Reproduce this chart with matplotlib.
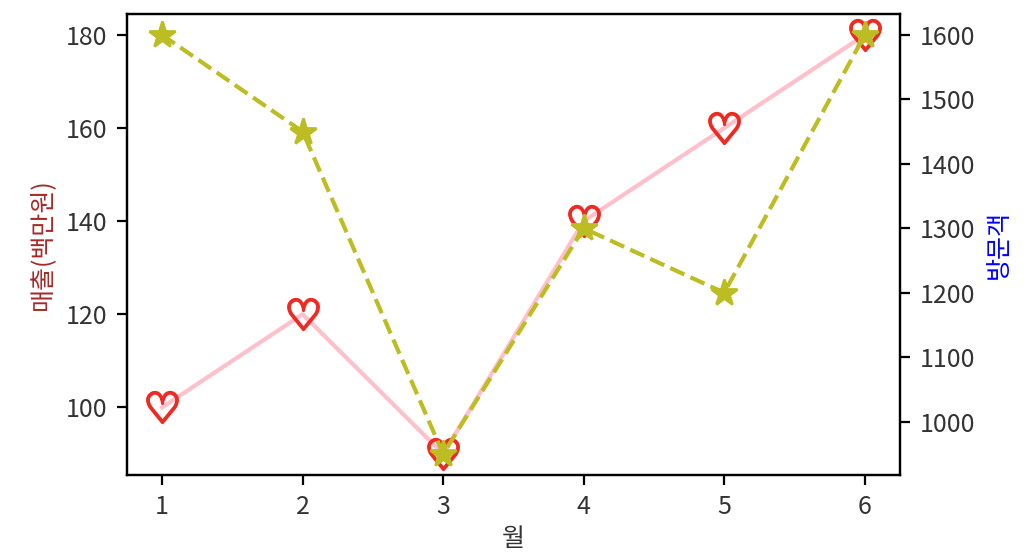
import matplotlib
matplotlib.use("Agg")
import matplotlib.pyplot as plt

plt.rcParams['font.family'] = ['Noto Sans CJK KR', 'DejaVu Sans']
plt.rcParams['axes.unicode_minus'] = False
plt.rcParams['xtick.labelcolor'] = '#333333'
plt.rcParams['ytick.labelcolor'] = '#333333'
plt.rcParams['axes.labelcolor'] = '#333333'

months = [1, 2, 3, 4, 5, 6]
sales = [100, 120, 90, 140, 160, 180]
visitors = [1600, 1450, 950, 1300, 1200, 1600]

fig, ax1 = plt.subplots(figsize=(5.16, 2.79), dpi=200)
fig.subplots_adjust(left=0.123, right=0.872, top=0.975, bottom=0.149)

# sales on left axis
ax1.plot(months, sales, color='pink', marker='$♡$', markersize=11,
         markeredgecolor='#ee2a22', markerfacecolor='#ee2a22', markeredgewidth=1.0)
ax1.set_xlabel('월', fontsize=9, labelpad=2)
ax1.set_ylabel('매출(백만원)', color='brown', fontsize=9)
ax1.tick_params(labelsize=9)

# visitors on right axis
ax2 = ax1.twinx()
ax2.plot(months, visitors, color='tab:olive', linestyle='--', marker='*',
         markersize=10)
ax2.set_ylabel('방문객', color='blue', fontsize=9)
ax2.tick_params(labelsize=9)

fig.savefig('out.png')
